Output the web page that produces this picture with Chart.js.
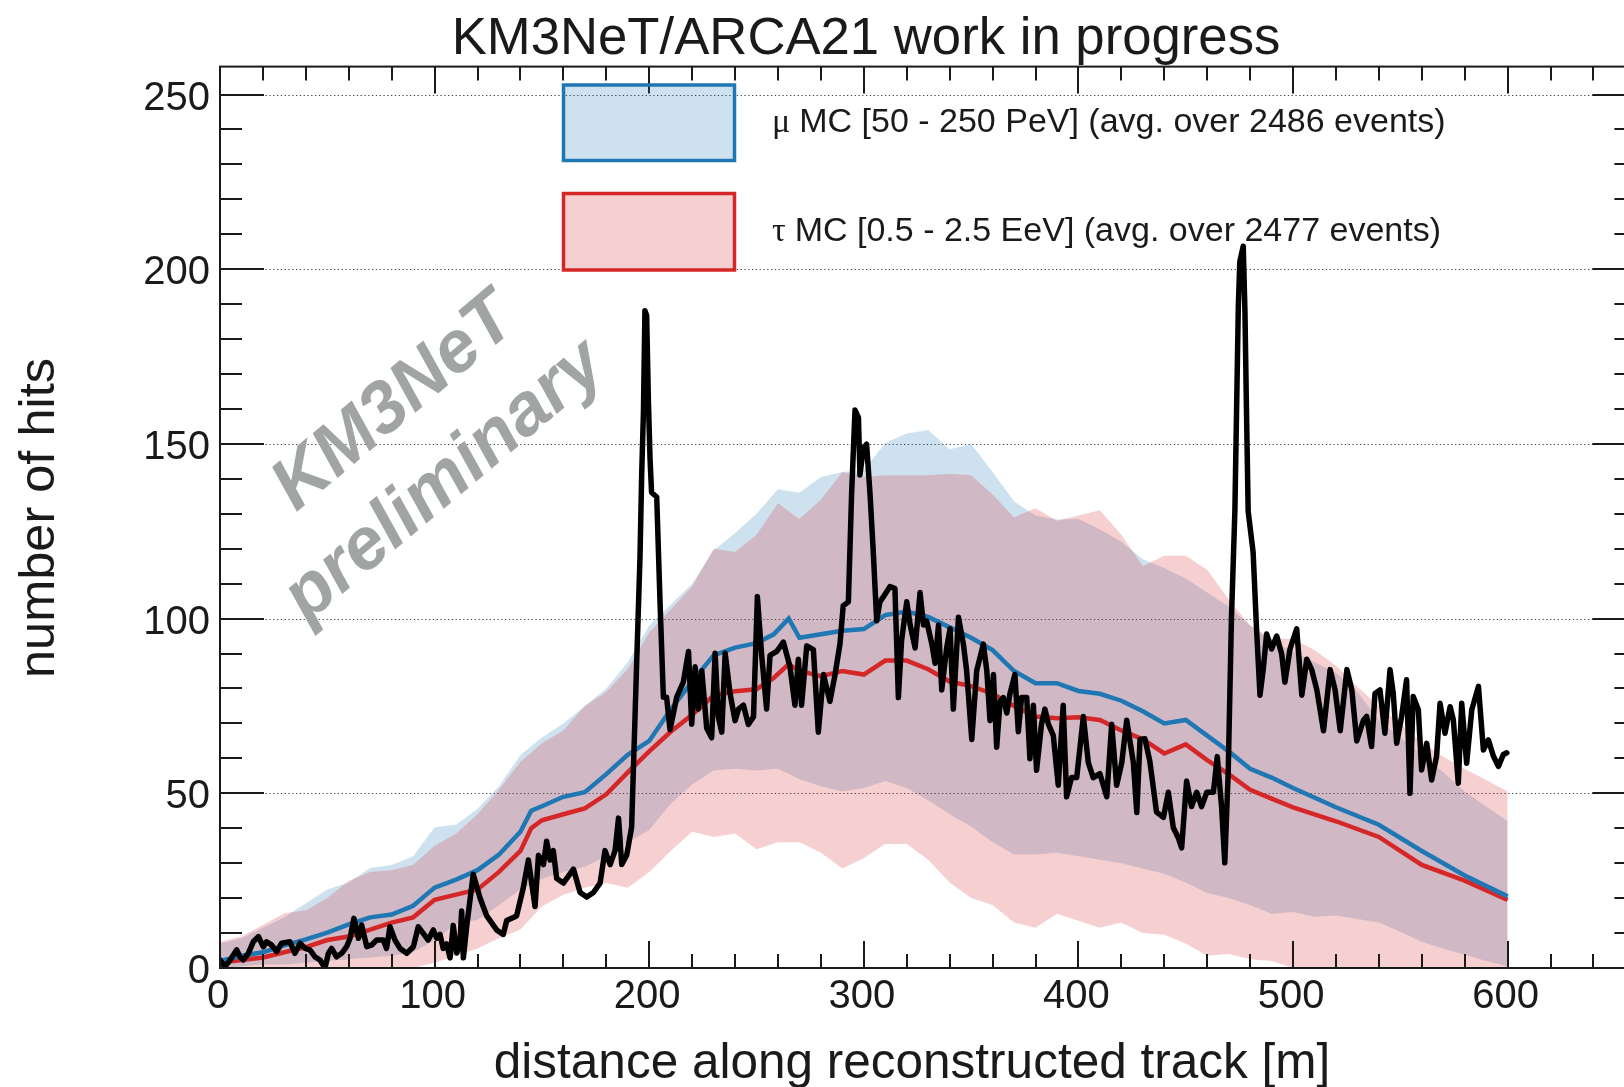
<!DOCTYPE html>
<html>
<head>
<meta charset="utf-8">
<title>KM3NeT/ARCA21 hits along track</title>
<script src="https://cdn.jsdelivr.net/npm/chart.js@4.4.1/dist/chart.umd.min.js"></script>
<style>
  html, body { margin: 0; padding: 0; background: #fff; overflow: hidden; }
  #wrap { width: 1624px; height: 1087px; overflow: hidden; }
</style>
</head>
<body>
<div id="wrap"><canvas id="hitsChart" width="1650" height="1087"></canvas></div>
<script>
// Observed event: hits per metre along the reconstructed track
const dataDist = [0, 2.3, 4.7, 7.8, 9.3, 10.9, 13.2, 15.5, 17.9, 20.2, 21.7, 24, 26.4, 28.7, 32.6, 34.9, 37.3, 39.6, 41.9, 44.3,
  46.6, 48.9, 50.5, 52, 54.3, 56.7, 59, 60.6, 62.4, 64.5, 66, 68.4, 70.7, 73, 76.1, 77.6, 79.2, 81.5, 83.9, 87,
  90.1, 92.4, 94.7, 97, 99.4, 101, 102.5, 104, 105.6, 107.2, 108.7, 110.3, 111.8, 112.6, 113.4, 115, 118, 121.1, 124.3, 128.9,
  132, 133.6, 138.2, 141.3, 143.7, 146.8, 148.4, 150.7, 152.2, 153.8, 155.3, 156.9, 160, 164.7, 167.8, 170.9, 174, 177.1, 179.4, 181.8,
  184.1, 185.7, 187.2, 189.5, 191.8, 193.4, 194.2, 195.7, 196.5, 197.3, 198, 198.8, 199.6, 200.4, 201.1, 203.5, 205, 206.6, 208.1, 209.7,
  212.8, 215.9, 218.3, 219.8, 221.4, 222.9, 224.5, 226.8, 229.1, 230.7, 232.2, 233.8, 235.4, 237.7, 240, 241.6, 243.9, 246.2, 248.6, 250.4,
  252.4, 254.7, 256.3, 259.4, 262.5, 265.6, 267.9, 269.5, 271, 273.4, 276.5, 278.8, 281.2, 284.2, 286.6, 288.9, 290.4, 292.8, 294.3, 295.9,
  297.5, 298.2, 299.8, 301.3, 302.9, 304.4, 306, 307.5, 309.9, 312.2, 314.5, 316.1, 317.6, 320, 321.6, 323.9, 326.2, 327.8, 329.3, 331.7,
  333.2, 334.8, 336.3, 338.6, 340.2, 341.7, 344.1, 346.4, 347.9, 350.3, 352.6, 355.7, 357.3, 358.8, 360.4, 361.9, 363.5, 365, 366.6, 368.1,
  370.4, 372, 373.5, 375.9, 377.4, 379, 380.5, 382.8, 384.4, 386, 388.3, 390.6, 392.9, 394.5, 396.8, 399.2, 402.3, 404.6, 406.9, 410,
  413.2, 415.5, 417.8, 420.2, 422.5, 425.6, 427.2, 428.7, 431, 433.3, 436.4, 439.6, 441.9, 444.2, 446.5, 448.1, 450.4, 452.7, 455.1, 457.4,
  459.8, 462.9, 464.7, 466.7, 468.2, 469.8, 471.3, 472.9, 473.7, 474.5, 475.2, 476.8, 477.6, 478.3, 479.1, 481.4, 483, 484.6, 486.1, 487.7,
  490, 492.4, 494.7, 496.2, 498.6, 501.7, 504.1, 506.4, 508.7, 511.1, 514.2, 517.3, 519.6, 522, 525.1, 527.4, 529.7, 532.8, 534.3, 536.6,
  538.2, 540.5, 542.8, 545.2, 546.7, 548.3, 550.6, 552.9, 554.5, 556, 558.4, 559.9, 562.3, 564.6, 566.9, 568.5, 570.8, 573.2, 574.7, 577,
  578.6, 580.9, 583.3, 586.4, 588.7, 591, 593.4, 595.7, 598, 599.6];
const dataHits = [2.3, 0.4, 2.3, 5.2, 3.2, 2.3, 4.2, 7.5, 9, 6.1, 7.5, 6.6, 4.7, 7.1, 7.5, 4.2, 7.1, 5.6, 5.2, 3.2,
  2.3, 0, 4.2, 5.6, 3.2, 4.2, 6.1, 8.5, 14.2, 8.5, 12.3, 6.1, 6.6, 8, 8, 5.6, 11.8, 8, 5.6, 4.2,
  6.1, 11.8, 9.9, 8, 10.9, 8.5, 9.6, 5.6, 6.9, 2.9, 12.2, 4.3, 6.9, 16.3, 2.9, 12.2, 26.8, 20.2, 14.9, 10.9,
  9.6, 13.6, 14.9, 22.9, 30.9, 17.6, 32.3, 29.6, 36.3, 30.9, 33.6, 25.6, 24.3, 28.3, 21.6, 20.3, 21.6, 24.3, 33.6, 29.6,
  33.6, 42.9, 29.6, 32.3, 40.3, 72.2, 88.2, 117.5, 141.5, 158.8, 188.1, 186.8, 162.8, 145.5, 136.1, 134.8, 105.5, 77.5, 77.5, 68.2,
  77.5, 81.8, 90.6, 69.8, 86.2, 74.1, 85.1, 68.6, 65.9, 90.1, 71.9, 67.5, 90.1, 78.5, 70.8, 74.1, 75.2, 69.7, 71.9, 106.3,
  89.5, 74.1, 89.5, 90.6, 93.3, 86.2, 75.2, 88.4, 75.2, 92.2, 91.1, 67.5, 84, 76.3, 84, 92.8, 103.7, 104.8, 135.6, 159.7,
  157.5, 141.1, 148.8, 149.9, 135.6, 119.2, 99.4, 104.8, 107, 109.2, 108.6, 77.4, 93.8, 104.8, 98.2, 91.6, 107.5, 98.2, 99.3, 92.7,
  87.2, 98.2, 79.6, 91.6, 97.1, 74.1, 100.4, 92.7, 85.1, 65.4, 85.1, 92.7, 85.1, 70.8, 84, 63.2, 76.3, 77.4, 73, 78.5,
  84, 67.6, 77.4, 77.4, 59.9, 75.2, 56.6, 69.8, 74.1, 69.8, 66.5, 52.3, 75.2, 49, 54.5, 54.5, 72, 58.8, 54.5, 55.6,
  49, 69.8, 52.3, 58.8, 70.9, 58.8, 44.5, 65.4, 65.6, 59.1, 44.6, 43.1, 50.3, 40.2, 37.3, 34.4, 53.5, 46.2, 50.3, 46.2,
  50.3, 50.3, 60.5, 46.2, 30.1, 56.1, 100, 130.7, 159.9, 189.1, 202.2, 206.6, 187.7, 159.9, 130.7, 119, 97.1, 78.1, 85.4, 95.6,
  91.3, 95, 89.9, 81.8, 91.3, 97.1, 78.1, 88.4, 85.4, 79.6, 67.9, 85.4, 79.6, 67.9, 85.4, 79.6, 65, 70.9, 72, 63.4,
  78.6, 79.6, 67.2, 85.4, 78.6, 64.3, 72, 82.5, 50, 77.7, 73.9, 56.7, 64.3, 53.8, 60.6, 75.8, 67.2, 74.8, 71, 52.9,
  75.8, 58.6, 73.9, 80.6, 62.4, 65.3, 60.6, 57.7, 61.1, 61.6];

// MC averages (mu and tau samples)
const meanDist = [0, 10, 20, 30, 40, 50, 60, 70, 80, 90, 100, 110, 120, 130, 140, 145, 150, 160, 170, 180,
  190, 200, 210, 220, 230, 240, 250, 258, 265, 270, 280, 290, 300, 310, 320, 330, 340, 350, 360, 370,
  380, 390, 400, 410, 420, 430, 440, 450, 460, 470, 480, 490, 500, 520, 540, 560, 580, 600];
const muMean = [2, 3.5, 4.5, 6.5, 8.2, 10.1, 12.5, 14.5, 15.3, 17.8, 23, 25.3, 28, 32.5, 39, 45, 46.3, 49, 50.3, 55.5,
  61, 65, 74, 82, 89.5, 91.7, 93, 95.5, 100, 94.5, 95.5, 96.5, 97, 101, 102, 100.5, 97.5, 94.5, 91, 85,
  81.5, 81.5, 79.3, 78.5, 76.5, 73.5, 70, 71, 66.5, 62, 57, 54.5, 51.5, 46, 41, 33.5, 26.5, 20.5];
const tauMean = [1.5, 2.3, 3, 4.5, 6, 8, 9, 11, 13, 14.5, 19.5, 21, 22.5, 27.5, 33.5, 40, 42.3, 44, 45.7, 49.7,
  56, 62, 67.6, 72.5, 78, 79.2, 79.8, 83, 87, 85, 83.5, 85, 84, 88, 88, 85.5, 82, 80.7, 78.5, 75,
  72, 71.5, 71.8, 71, 68, 65.5, 61.4, 64, 59.5, 55.5, 51, 48.5, 46, 42, 37.5, 29.5, 25, 19.5];

// MC spread bands
const bandDist = [0, 10, 20, 30, 40, 50, 60, 70, 80, 90, 100, 110, 120, 130, 140, 150, 160, 170, 180, 190,
  200, 210, 220, 230, 240, 250, 260, 270, 280, 290, 300, 310, 320, 330, 340, 350, 360, 370, 380, 390,
  400, 410, 420, 430, 440, 450, 460, 470, 480, 490, 500, 510, 520, 530, 540, 550, 560, 570, 580, 590, 600];
const muHi = [7, 8.5, 11.5, 14.5, 18.5, 22.5, 24.5, 28.6, 29.5, 32, 40.3, 41, 45.6, 52, 61, 66, 70, 75, 80, 87.5,
  98, 104, 110, 119.5, 124.5, 130, 137, 136, 140.5, 142, 142.5, 150.3, 153, 154, 148.5, 150, 142, 133.5, 129.5, 128.4,
  128.5, 125.5, 122, 117, 114.5, 111.5, 107.5, 103.5, 98, 93.5, 90.5, 87.5, 84.5, 79, 71, 66, 61, 56, 50.5, 46.2, 42];
const muLo = [0, 0.5, 1, 1, 1.5, 2, 2.5, 3, 3.5, 4.5, 8, 12.5, 13.8, 18, 22.5, 25.5, 27.5, 29, 32, 36,
  39.5, 47, 52.5, 56.5, 57, 56.5, 57, 54, 52, 50.5, 51.5, 53.5, 51.5, 48, 44, 40.5, 36, 32.5, 32.5, 33,
  32, 31, 30, 28.5, 27, 24.5, 21.5, 20, 18, 15.5, 16, 14.7, 15, 14, 13, 10.4, 7.5, 5.5, 3.8, 2, 0.5];
const tauHi = [7.5, 9, 12.3, 15.7, 16.5, 20, 25, 27.5, 28, 29.5, 35, 38.5, 44, 51, 59, 64.3, 68, 75, 79, 85.6,
  96, 102.6, 109.2, 120, 119.1, 124, 133, 128.5, 134, 142, 140.5, 141, 141, 141, 141.5, 141, 135.5, 129, 131.6, 128,
  129.5, 131, 124, 115, 118, 118, 114, 105.5, 98, 94.3, 94.2, 91, 86.5, 80.5, 75, 70, 64.5, 60.5, 57, 53.8, 50.5];
const tauLo = [0, 0, 0, 0, 0, 0, 0, 0, 0, 0, 1.5, 3.5, 5.6, 8.5, 11, 17.6, 21, 23, 24.3, 23,
  27.5, 33.5, 39, 37.5, 38.5, 34, 36, 36, 33, 28.5, 31.5, 35.5, 35.5, 31, 24.5, 20, 18, 13, 11.5, 15.5,
  13.5, 11.5, 13, 10, 9.5, 7, 3.5, 4, 2.5, 2, 0, 0, 0, 0, 0, 0, 0, 0, 0, 0, 0];

const xTickLabels = [0, 100, 200, 300, 400, 500, 600];
const yTickLabels = [0, 50, 100, 150, 200, 250];
const legendLabels = [
  ['\u03bc', 'MC [50 - 250 PeV] (avg. over 2486 events)'],
  ['\u03c4', 'MC [0.5 - 2.5 EeV] (avg. over 2477 events)']
];

const blue = '#1f77b4';
const red = '#d62728';
const blueFill = 'rgba(31, 119, 180, 0.22)';
const redFill = 'rgba(214, 39, 40, 0.22)';
const ink = '#1a1a1a';
const sans = "'Liberation Sans', Arial, Helvetica, sans-serif";
const serif = "'Liberation Serif', 'Times New Roman', serif";

const pts = (xs, ys) => xs.map((x, i) => ({ x: x, y: ys[i] }));

// ROOT-like frame: ticks on all four sides, dotted y grid, labels drawn by hand
const rootFrame = {
  id: 'rootFrame',
  beforeDatasetsDraw(chart) {
    const { ctx, chartArea: a, scales: { y } } = chart;
    ctx.save();
    ctx.strokeStyle = '#444';
    ctx.lineWidth = 1.2;
    ctx.setLineDash([1.3, 2.5]);
    yTickLabels.slice(1).forEach(v => {
      const py = Math.round(y.getPixelForValue(v)) + 0.5;
      ctx.beginPath();
      ctx.moveTo(a.left, py);
      ctx.lineTo(a.right, py);
      ctx.stroke();
    });
    ctx.restore();

    // watermark
    ctx.save();
    ctx.fillStyle = '#a0a4a3';
    ctx.font = 'italic bold 73px ' + sans;
    ctx.textAlign = 'center';
    ctx.textBaseline = 'middle';
    ctx.translate(416, 447);
    ctx.rotate(-40 * Math.PI / 180);
    ctx.fillText('KM3NeT', 12, -47);
    ctx.fillText('preliminary', 0, 45);
    ctx.restore();
  },
  afterDatasetsDraw(chart) {
    const { ctx, chartArea: a, scales: { x, y } } = chart;
    ctx.save();
    ctx.strokeStyle = ink;
    ctx.lineWidth = 2;
    ctx.beginPath();
    for (let m = 0; m <= 660; m += 20) {
      const px = Math.round(x.getPixelForValue(m));
      const len = m % 100 === 0 ? 27 : 14;
      ctx.moveTo(px, a.bottom); ctx.lineTo(px, a.bottom - len);
      ctx.moveTo(px, a.top); ctx.lineTo(px, a.top + len);
    }
    for (let v = 0; v <= 250; v += 10) {
      const py = Math.round(y.getPixelForValue(v));
      const len = v % 50 === 0 ? 44 : 22;
      ctx.moveTo(a.left, py); ctx.lineTo(a.left + len, py);
      ctx.moveTo(a.right, py); ctx.lineTo(a.right - len, py);
    }
    ctx.stroke();
    ctx.strokeRect(a.left, a.top, a.right - a.left, a.bottom - a.top);
    ctx.restore();
  },
  afterDraw(chart) {
    const { ctx, scales: { x, y } } = chart;
    ctx.save();
    ctx.fillStyle = ink;

    ctx.font = '40px ' + sans;
    ctx.textAlign = 'center';
    ctx.textBaseline = 'alphabetic';
    xTickLabels.forEach(m => ctx.fillText(String(m), x.getPixelForValue(m) - 2, 1008));
    ctx.textAlign = 'right';
    yTickLabels.forEach(v => ctx.fillText(String(v), 210, y.getPixelForValue(v) + 15));

    ctx.font = '52.7px ' + sans;
    ctx.textAlign = 'center';
    ctx.fillText('KM3NeT/ARCA21 work in progress', 866, 54);

    ctx.font = '49.5px ' + sans;
    ctx.fillText('distance along reconstructed track [m]', 912, 1078);

    ctx.save();
    ctx.font = '50.5px ' + sans;
    ctx.translate(54, 518);
    ctx.rotate(-Math.PI / 2);
    ctx.fillText('number of hits', 0, 0);
    ctx.restore();

    // legend boxes
    const boxes = [
      { top: 85, h: 75.5, fill: blueFill, line: blue, base: 132 },
      { top: 193.5, h: 76.5, fill: redFill, line: red, base: 241 }
    ];
    boxes.forEach((b, i) => {
      ctx.fillStyle = b.fill;
      ctx.fillRect(563.5, b.top, 171, b.h);
      ctx.strokeStyle = b.line;
      ctx.lineWidth = 3.5;
      ctx.strokeRect(563.5, b.top, 171, b.h);
      ctx.fillStyle = ink;
      ctx.textAlign = 'left';
      ctx.font = '34px ' + serif;
      ctx.fillText(legendLabels[i][0], 772, b.base);
      const w = ctx.measureText(legendLabels[i][0]).width;
      ctx.font = '34px ' + sans;
      ctx.fillText(legendLabels[i][1], 772 + w + 9, b.base);
    });
    ctx.restore();
  }
};

const bandStyle = { borderWidth: 0, borderColor: 'rgba(0,0,0,0)', pointRadius: 0, tension: 0 };

new Chart(document.getElementById('hitsChart').getContext('2d'), {
  type: 'line',
  data: {
    datasets: [
      { label: 'data', data: pts(dataDist, dataHits), borderColor: '#000', borderWidth: 5.5,
        borderJoinStyle: 'round', borderCapStyle: 'round', pointRadius: 0, fill: false, order: 0 },
      { label: 'mu mean', data: pts(meanDist, muMean), borderColor: blue, borderWidth: 4.5,
        pointRadius: 0, fill: false, order: 1 },
      { label: 'tau mean', data: pts(meanDist, tauMean), borderColor: red, borderWidth: 4.5,
        pointRadius: 0, fill: false, order: 2 },
      { label: 'tau hi', data: pts(bandDist, tauHi), backgroundColor: redFill, fill: 4, order: 3, ...bandStyle },
      { label: 'tau lo', data: pts(bandDist, tauLo), fill: false, order: 4, ...bandStyle },
      { label: 'mu hi', data: pts(bandDist, muHi), backgroundColor: blueFill, fill: 6, order: 5, ...bandStyle },
      { label: 'mu lo', data: pts(bandDist, muLo), fill: false, order: 6, ...bandStyle }
    ]
  },
  options: {
    responsive: false,
    devicePixelRatio: 1,
    animation: false,
    layout: { padding: { left: 220, right: 13.6, top: 66.6, bottom: 119 } },
    plugins: { legend: { display: false }, tooltip: { enabled: false } },
    scales: {
      x: { type: 'linear', min: 0, max: 660, display: false },
      y: { type: 'linear', min: 0, max: 258, display: false }
    }
  },
  plugins: [rootFrame]
});
</script>
</body>
</html>
